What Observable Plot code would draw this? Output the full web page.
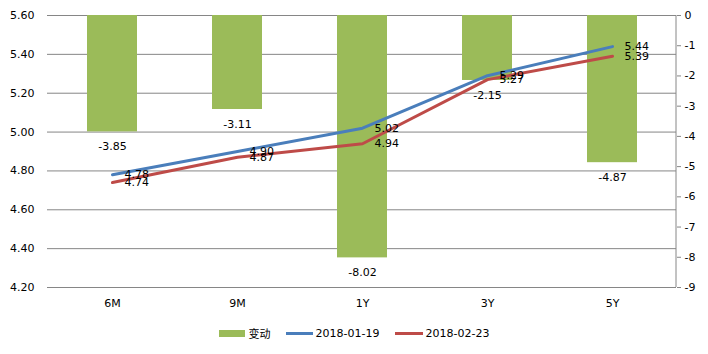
<!DOCTYPE html>
<html>
<head>
<meta charset="utf-8">
<script src="https://cdn.jsdelivr.net/npm/d3@7"></script>
<script src="https://cdn.jsdelivr.net/npm/@observablehq/plot@0.6"></script>
<style>
  body { margin: 0; background: #fff; font-family: "DejaVu Sans", "Noto Sans CJK SC", sans-serif; }
  #legend { display: flex; justify-content: center; align-items: center; height: 30px; font-size: 11px; color: #000; }
  .item { display: flex; align-items: center; }
  .gap { width: 15px; }
</style>
</head>
<body>
<div id="chart"></div>
<div id="legend"></div>
<script>
const categories = ["6M", "9M", "1Y", "3Y", "5Y"];
const change = [-3.85, -3.11, -8.02, -2.15, -4.87];
const rate0119 = [4.78, 4.90, 5.02, 5.29, 5.44];
const rate0223 = [4.74, 4.87, 4.94, 5.27, 5.39];
const leftTicks = [4.2, 4.4, 4.6, 4.8, 5.0, 5.2, 5.4, 5.6];
const rightTicks = [0, -1, -2, -3, -4, -5, -6, -7, -8, -9];
const seriesNames = ["变动", "2018-01-19", "2018-02-23"];
const colors = ["#9bbb59", "#4a7ebb", "#be4b48"];

// secondary axis (0 .. -9) mapped onto primary (5.6 .. 4.2)
const yTop = 5.6, yBot = 4.2, rTop = 0, rBot = -9;
const toLeft = v => yTop + (v - rTop) * (yTop - yBot) / (rTop - rBot);
const toRight = y => rTop + (y - yTop) * (rTop - rBot) / (yTop - yBot);

const bars = categories.map((c, i) => ({cat: c, v: change[i], top: toLeft(0), end: toLeft(change[i])}));
const s1 = categories.map((c, i) => ({cat: c, v: rate0119[i]}));
const s2 = categories.map((c, i) => ({cat: c, v: rate0223[i]}));

const font = '"DejaVu Sans", "Noto Sans CJK SC", sans-serif';

const rightLine = (index, scales, values, dims) => {
  const svg = d3.create("svg:line")
    .attr("x1", dims.width - dims.marginRight)
    .attr("x2", dims.width - dims.marginRight)
    .attr("y1", dims.marginTop)
    .attr("y2", dims.height - dims.marginBottom)
    .attr("stroke", "#868686");
  return svg.node();
};

const plot = Plot.plot({
  width: 708,
  height: 318,
  marginLeft: 47,
  marginRight: 32,
  marginTop: 15,
  marginBottom: 31,
  style: {fontFamily: font, fontSize: "11px", color: "#000", background: "#fff"},
  x: {domain: categories, paddingInner: 0.6, paddingOuter: 0.3, label: null},
  y: {domain: [yBot, yTop], label: null},
  marks: [
    Plot.gridY(leftTicks, {stroke: "#868686", strokeOpacity: 1}),
    Plot.barY(bars, {x: "cat", y1: "top", y2: "end", fill: colors[0]}),
    Plot.lineY(s1, {x: "cat", y: "v", stroke: colors[1], strokeWidth: 3}),
    Plot.lineY(s2, {x: "cat", y: "v", stroke: colors[2], strokeWidth: 3}),
    Plot.text(bars, {x: "cat", y: "end", text: d => d.v.toFixed(2), dy: 15, fill: "#000"}),
    Plot.text(s1, {x: "cat", y: "v", text: d => d.v.toFixed(2), dx: 12, textAnchor: "start", fill: "#000"}),
    Plot.text(s2, {x: "cat", y: "v", text: d => d.v.toFixed(2), dx: 12, textAnchor: "start", fill: "#000"}),
    Plot.axisX({tickSize: 0, tickPadding: 12, label: null}),
    Plot.axisY({anchor: "left", ticks: leftTicks, tickFormat: d => d.toFixed(2), tickSize: 0, tickPadding: 13, label: null}),
    Plot.axisY({anchor: "right", ticks: rightTicks.map(toLeft), tickFormat: d => String(Math.round(toRight(d))), tickSize: 4, tickPadding: 4, stroke: "#868686", label: null}),
    rightLine
  ]
});
document.getElementById("chart").appendChild(plot);

const legend = document.getElementById("legend");
const swatches = [
  `<span style="display:inline-block;width:26px;height:7px;background:${colors[0]};margin-right:4px"></span>`,
  `<span style="display:inline-block;width:27px;height:3px;background:${colors[1]};margin-right:3px"></span>`,
  `<span style="display:inline-block;width:28px;height:3px;background:${colors[2]};margin-right:3px"></span>`
];
legend.innerHTML = seriesNames.map((n, i) =>
  `<div class="item">${swatches[i]}<span>${n}</span></div>`).join('<div class="gap"></div>');
</script>
</body>
</html>
